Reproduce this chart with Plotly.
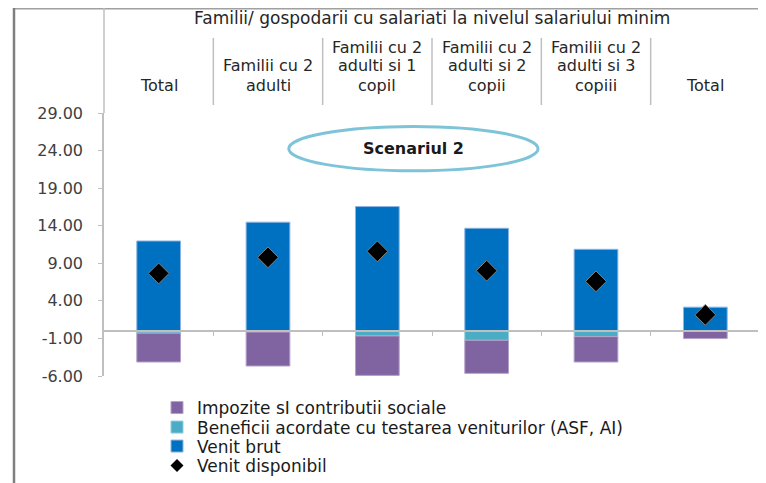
import plotly.graph_objects as go

# ---- data ----
group_title = "Familii/ gospodarii cu salariati la nivelul salariului minim"
categories = ["Total", "Familii cu 2<br>adulti", "Familii cu 2<br>adulti si 1<br>copil",
              "Familii cu 2<br>adulti si 2<br>copii", "Familii cu 2<br>adulti si 3<br>copiii", "Total"]
impozite = [-3.84, -4.52, -5.25, -4.40, -3.38, -1.02]
beneficii = [-0.30, -0.15, -0.67, -1.25, -0.76, 0.0]
venit_brut = [11.97, 14.47, 16.55, 13.66, 10.86, 3.16]
venit_disponibil = [7.65, 9.79, 10.59, 8.01, 6.59, 2.14]
y_ticks = [-6, -1, 4, 9, 14, 19, 24, 29]
y_ticktext = [f"{v:.2f}" for v in y_ticks]
scenario_label = "Scenariul 2"

# the page adds an 8 px body margin, so the figure starts at page (8, 8)
OFF = 8
PAGE_W, PAGE_H = 766, 483
W, H = PAGE_W - OFF, PAGE_H - OFF
PL, PR, PT, PB = 104, 760, 113, 376          # plot area in page pixels
L, R, T, B = PL - OFF, PAGE_W - PR, PT - OFF, PAGE_H - PB
ymin, ymax = -6, 29
xpos = list(range(len(categories)))

FONT = "DejaVu Sans"
GREY = "#BFBFBF"

def px(x):  # page pixel -> paper x
    return (x - PL) / (PR - PL)

def py(y):  # page pixel -> paper y
    return (PB - y) / (PB - PT)

fig = go.Figure()
fig.add_trace(go.Bar(x=xpos, y=beneficii, name="Beneficii acordate cu testarea veniturilor (ASF, AI)",
                     marker=dict(color="#4BACC6", line=dict(color="#93CDDD", width=1)), legend="legend2"))
fig.add_trace(go.Bar(x=xpos, y=impozite, name="Impozite sI contributii sociale",
                     marker=dict(color="#8064A2", line=dict(color="#B3A2C7", width=1)), legend="legend"))
fig.add_trace(go.Bar(x=xpos, y=venit_brut, name="Venit brut",
                     marker=dict(color="#0070C0", line=dict(color="#8DB4E2", width=1)), legend="legend3"))
fig.add_trace(go.Scatter(x=xpos, y=venit_disponibil, name="Venit disponibil", mode="markers",
                         showlegend=False,
                         marker=dict(symbol="diamond", size=16, color="black",
                                     line=dict(color="#7F7F7F", width=1))))
# legend entry with a smaller diamond, as in the reference
fig.add_trace(go.Scatter(x=[None], y=[None], name="Venit disponibil", mode="markers",
                         marker=dict(symbol="diamond", size=10, color="black"), legend="legend4"))

shapes = []
line_style = dict(color=GREY, width=1.5)
# outer frame (top + left)
shapes.append(dict(type="line", xref="paper", yref="paper", x0=px(14), x1=px(766), y0=py(8.5), y1=py(8.5),
                   line=dict(color="#A0A0A0", width=2)))
shapes.append(dict(type="line", xref="paper", yref="paper", x0=px(14), x1=px(14), y0=py(8), y1=py(483),
                   line=dict(color="#7F7F7F", width=2.5)))
# header table borders
shapes.append(dict(type="line", xref="paper", yref="paper", x0=0, x1=0, y0=1, y1=py(8), line=line_style))
shapes.append(dict(type="line", xref="paper", yref="paper", x0=1, x1=1, y0=py(105), y1=py(8), line=line_style))
for i in range(len(categories) - 1):
    shapes.append(dict(type="line", xref="x", yref="paper", x0=i + 0.5, x1=i + 0.5,
                       y0=py(105), y1=py(38), line=line_style))
# scenario ellipse
shapes.append(dict(type="circle", xref="x", yref="y", x0=1.19, x1=3.47, y0=21.3, y1=27.2,
                   line=dict(color="#7EC4D8", width=3)))

annotations = [dict(text=group_title, xref="paper", yref="paper", x=0.5, y=py(18), showarrow=False,
                    font=dict(family=FONT, size=17, color="#262626"), yanchor="middle")]
for i, c in enumerate(categories):
    lines = c.split("<br>")
    for k, ln in enumerate(reversed(lines)):
        annotations.append(dict(text=ln, xref="x", yref="paper", x=i, y=py(85 - 19 * k), yanchor="middle",
                                showarrow=False, font=dict(family=FONT, size=16, color="#262626")))
annotations.append(dict(text="<b>" + scenario_label + "</b>", xref="x", yref="y", x=2.33, y=24.25,
                        showarrow=False, font=dict(family=FONT, size=16, color="#1a1a1a")))

legend_rows = [408, 427.5, 446.5, 466]
leg_common = dict(orientation="v", xanchor="left", yanchor="middle", itemwidth=30,
                  font=dict(family=FONT, size=17, color="#1a1a1a"), bgcolor="rgba(0,0,0,0)",
                  borderwidth=0)
LEG_X = px(157)

fig.update_layout(
    width=W, height=H, autosize=False,
    margin=dict(l=L, r=R, t=T, b=B, autoexpand=False),
    paper_bgcolor="white", plot_bgcolor="white",
    barmode="relative", bargap=0.6,
    shapes=shapes, annotations=annotations,
    showlegend=True,
    legend=dict(x=LEG_X, y=py(legend_rows[0]), **leg_common),
    legend2=dict(x=LEG_X, y=py(legend_rows[1]), **leg_common),
    legend3=dict(x=LEG_X, y=py(legend_rows[2]), **leg_common),
    legend4=dict(x=LEG_X, y=py(legend_rows[3]), **leg_common),
    xaxis=dict(range=[-0.5, len(categories) - 0.5], tickvals=[i + 0.5 for i in xpos],
               showticklabels=False, ticks="outside", ticklen=4, tickcolor=GREY,
               showline=True, linecolor=GREY, linewidth=2, showgrid=False, zeroline=False,
               anchor="free", position=(0 - ymin) / (ymax - ymin), automargin=False),
    yaxis=dict(range=[ymin, ymax], tickvals=y_ticks, ticktext=y_ticktext, ticks="outside", ticklen=4,
               tickcolor=GREY, showline=True, linecolor=GREY, linewidth=1.5, showgrid=False,
               zeroline=False, automargin=False, ticklabelstandoff=12,
               tickfont=dict(family=FONT, size=16, color="#404040")),
)

fig.write_html("out.html")
